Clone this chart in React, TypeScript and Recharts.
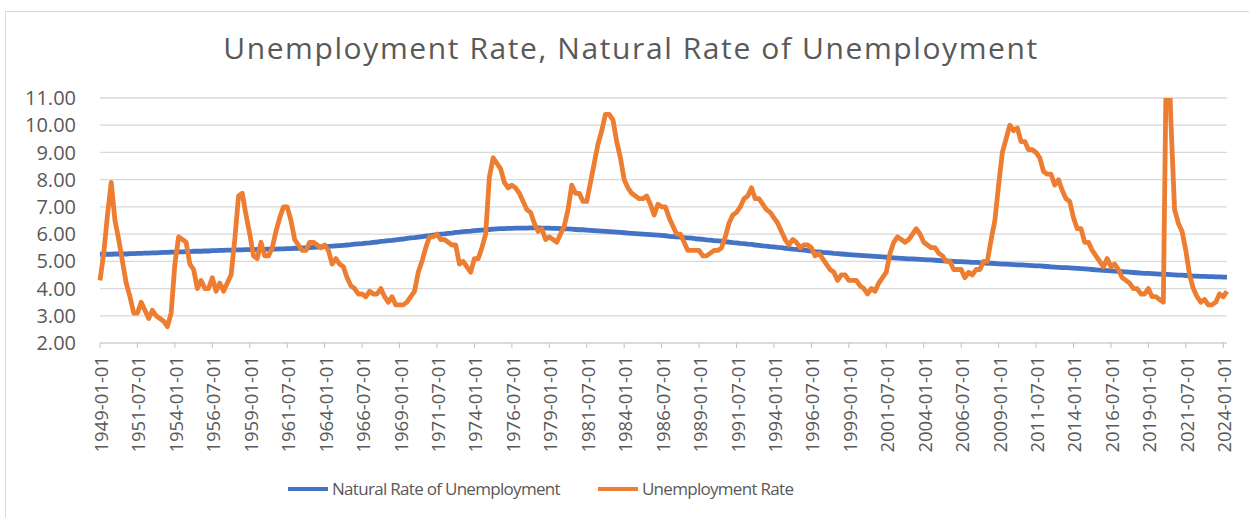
import { LineChart, Line, XAxis, YAxis, CartesianGrid, Legend } from 'recharts';

const FONT = "'Open Sans', sans-serif";
const TEXT = '#595959';
const GRID = '#d9d9d9';

const firstYear = 1949;
const quarterMonths = ['01', '04', '07', '10'];

// unemployment rate (%), first month of each quarter, 1949Q1 - 2024Q2
const unemploymentRate = [
  4.3, 5.3, 6.7, 7.9, // 1949
  6.5, 5.8, 5.0, 4.2,
  3.7, 3.1, 3.1, 3.5,
  3.2, 2.9, 3.2, 3.0,
  2.9, 2.8, 2.6, 3.1,
  4.9, 5.9, 5.8, 5.7, // 1954
  4.9, 4.7, 4.0, 4.3,
  4.0, 4.0, 4.4, 3.9,
  4.2, 3.9, 4.2, 4.5,
  5.8, 7.4, 7.5, 6.7,
  6.0, 5.2, 5.1, 5.7, // 1959
  5.2, 5.2, 5.5, 6.1,
  6.6, 7.0, 7.0, 6.5,
  5.8, 5.6, 5.4, 5.4,
  5.7, 5.7, 5.6, 5.5,
  5.6, 5.4, 4.9, 5.1, // 1964
  4.9, 4.8, 4.4, 4.1,
  4.0, 3.8, 3.8, 3.7,
  3.9, 3.8, 3.8, 4.0,
  3.7, 3.5, 3.7, 3.4,
  3.4, 3.4, 3.5, 3.7, // 1969
  3.9, 4.6, 5.0, 5.5,
  5.9, 5.9, 6.0, 5.8,
  5.8, 5.7, 5.6, 5.6,
  4.9, 5.0, 4.8, 4.6,
  5.1, 5.1, 5.5, 6.0, // 1974
  8.1, 8.8, 8.6, 8.4,
  7.9, 7.7, 7.8, 7.7,
  7.5, 7.2, 6.9, 6.8,
  6.4, 6.1, 6.2, 5.8,
  5.9, 5.8, 5.7, 6.0, // 1979
  6.3, 6.9, 7.8, 7.5,
  7.5, 7.2, 7.2, 7.9,
  8.6, 9.3, 9.8, 10.4,
  10.4, 10.2, 9.4, 8.8,
  8.0, 7.7, 7.5, 7.4, // 1984
  7.3, 7.3, 7.4, 7.1,
  6.7, 7.1, 7.0, 7.0,
  6.6, 6.3, 6.0, 6.0,
  5.7, 5.4, 5.4, 5.4,
  5.4, 5.2, 5.2, 5.3, // 1989
  5.4, 5.4, 5.5, 5.9,
  6.4, 6.7, 6.8, 7.0,
  7.3, 7.4, 7.7, 7.3,
  7.3, 7.1, 6.9, 6.8,
  6.6, 6.4, 6.1, 5.8, // 1994
  5.6, 5.8, 5.7, 5.5,
  5.6, 5.6, 5.5, 5.2,
  5.3, 5.1, 4.9, 4.7,
  4.6, 4.3, 4.5, 4.5,
  4.3, 4.3, 4.3, 4.1, // 1999
  4.0, 3.8, 4.0, 3.9,
  4.2, 4.4, 4.6, 5.3,
  5.7, 5.9, 5.8, 5.7,
  5.8, 6.0, 6.2, 6.0,
  5.7, 5.6, 5.5, 5.5, // 2004
  5.3, 5.2, 5.0, 5.0,
  4.7, 4.7, 4.7, 4.4,
  4.6, 4.5, 4.7, 4.7,
  5.0, 5.0, 5.8, 6.5,
  7.8, 9.0, 9.5, 10.0, // 2009
  9.8, 9.9, 9.4, 9.4,
  9.1, 9.1, 9.0, 8.8,
  8.3, 8.2, 8.2, 7.8,
  8.0, 7.6, 7.3, 7.2,
  6.6, 6.2, 6.2, 5.7, // 2014
  5.7, 5.4, 5.2, 5.0,
  4.8, 5.1, 4.8, 4.9,
  4.7, 4.4, 4.3, 4.2,
  4.0, 4.0, 3.8, 3.8,
  4.0, 3.7, 3.7, 3.6, // 2019
  3.5, 14.8, 10.2, 6.9,
  6.4, 6.1, 5.4, 4.5,
  4.0, 3.7, 3.5, 3.6,
  3.4, 3.4, 3.5, 3.8,
  3.7, 3.9, // 2024
];

// natural rate of unemployment (%), same quarters
const naturalRate = [
  5.26, 5.26, 5.26, 5.26, // 1949
  5.27, 5.27, 5.27, 5.27,
  5.28, 5.28, 5.29, 5.29,
  5.30, 5.30, 5.31, 5.31,
  5.32, 5.33, 5.33, 5.34,
  5.34, 5.35, 5.35, 5.36, // 1954
  5.36, 5.37, 5.37, 5.37,
  5.38, 5.38, 5.39, 5.39,
  5.40, 5.40, 5.41, 5.41,
  5.42, 5.42, 5.42, 5.43,
  5.43, 5.43, 5.44, 5.44, // 1959
  5.44, 5.45, 5.45, 5.45,
  5.46, 5.46, 5.47, 5.47,
  5.48, 5.48, 5.49, 5.49,
  5.50, 5.51, 5.52, 5.53,
  5.54, 5.55, 5.56, 5.57, // 1964
  5.58, 5.59, 5.60, 5.61,
  5.63, 5.64, 5.65, 5.67,
  5.68, 5.70, 5.71, 5.73,
  5.74, 5.76, 5.77, 5.79,
  5.81, 5.82, 5.84, 5.86, // 1969
  5.87, 5.89, 5.91, 5.93,
  5.94, 5.96, 5.98, 6.00,
  6.01, 6.03, 6.04, 6.06,
  6.07, 6.09, 6.10, 6.11,
  6.13, 6.14, 6.15, 6.16, // 1974
  6.17, 6.18, 6.19, 6.20,
  6.20, 6.21, 6.21, 6.22,
  6.22, 6.22, 6.22, 6.23,
  6.23, 6.23, 6.22, 6.22,
  6.22, 6.21, 6.21, 6.20, // 1979
  6.19, 6.19, 6.18, 6.17,
  6.16, 6.16, 6.15, 6.14,
  6.13, 6.12, 6.11, 6.10,
  6.09, 6.08, 6.07, 6.06,
  6.05, 6.04, 6.03, 6.02, // 1984
  6.01, 6.00, 5.99, 5.98,
  5.97, 5.96, 5.95, 5.94,
  5.92, 5.91, 5.90, 5.89,
  5.87, 5.86, 5.85, 5.83,
  5.82, 5.81, 5.79, 5.78, // 1989
  5.76, 5.75, 5.74, 5.72,
  5.71, 5.69, 5.68, 5.66,
  5.65, 5.63, 5.62, 5.60,
  5.59, 5.57, 5.56, 5.54,
  5.53, 5.51, 5.50, 5.48, // 1994
  5.47, 5.45, 5.44, 5.42,
  5.41, 5.39, 5.38, 5.36,
  5.35, 5.33, 5.32, 5.31,
  5.29, 5.28, 5.27, 5.26,
  5.25, 5.24, 5.23, 5.22, // 1999
  5.21, 5.20, 5.19, 5.18,
  5.17, 5.16, 5.15, 5.14,
  5.13, 5.12, 5.11, 5.10,
  5.09, 5.09, 5.08, 5.07,
  5.06, 5.05, 5.05, 5.04, // 2004
  5.03, 5.02, 5.02, 5.01,
  5.00, 4.99, 4.99, 4.98,
  4.97, 4.96, 4.96, 4.95,
  4.94, 4.93, 4.93, 4.92,
  4.91, 4.90, 4.90, 4.89, // 2009
  4.88, 4.87, 4.87, 4.86,
  4.85, 4.84, 4.83, 4.83,
  4.82, 4.81, 4.80, 4.79,
  4.78, 4.77, 4.77, 4.76,
  4.75, 4.74, 4.73, 4.72, // 2014
  4.71, 4.70, 4.69, 4.68,
  4.67, 4.66, 4.65, 4.64,
  4.63, 4.62, 4.61, 4.60,
  4.59, 4.58, 4.57, 4.56,
  4.56, 4.55, 4.54, 4.53, // 2019
  4.52, 4.52, 4.51, 4.50,
  4.49, 4.49, 4.48, 4.47,
  4.46, 4.46, 4.45, 4.45,
  4.44, 4.44, 4.43, 4.43,
  4.42, 4.42, // 2024
];

const yTicks = [2, 3, 4, 5, 6, 7, 8, 9, 10, 11];

const series = [
  { key: 'natural', name: 'Natural Rate of Unemployment', color: '#4472C4' },
  { key: 'unemployment', name: 'Unemployment Rate', color: '#ED7D31' },
];

const dates = unemploymentRate.map(
  (_, i) => `${firstYear + Math.floor(i / 4)}-${quarterMonths[i % 4]}-01`
);

const data = dates.map((date, i) => ({
  date,
  natural: naturalRate[i],
  unemployment: unemploymentRate[i],
}));

function DateTick({ x, y, payload }: any) {
  return (
    <text
      transform={`translate(${x + 8},${y + 8}) rotate(-90)`}
      textAnchor="end"
      fill={TEXT}
      fontSize={18.5}
      fontFamily={FONT}
    >
      {payload.value}
    </text>
  );
}

function LegendBox() {
  return (
    <div
      style={{
        height: 28,
        display: 'flex',
        alignItems: 'center',
        paddingLeft: 288,
        fontFamily: FONT,
        fontSize: 17,
        letterSpacing: -0.7,
        lineHeight: '28px',
        color: TEXT,
      }}
    >
      {series.map((s, i) => (
        <div key={s.key} style={{ display: 'flex', alignItems: 'center', marginLeft: i ? 38 : 0 }}>
          <span style={{ width: 40, height: 4, background: s.color, marginRight: 4 }} />
          <span>{s.name}</span>
        </div>
      ))}
    </div>
  );
}

export default function App() {
  return (
    <div
      style={{
        position: 'absolute',
        left: 0,
        top: 0,
        width: 1249,
        height: 518,
        overflow: 'hidden',
        background: '#fff',
      }}
    >
      <div
        style={{
          position: 'absolute',
          left: 5,
          top: 11,
          width: 1300,
          height: 600,
          border: `1px solid ${GRID}`,
        }}
      />
      <div
        style={{
          position: 'absolute',
          left: 6,
          top: 33,
          width: 1250,
          textAlign: 'center',
          fontFamily: FONT,
          fontSize: 30,
          lineHeight: '30px',
          letterSpacing: 1.6,
          color: TEXT,
        }}
      >
        Unemployment Rate, Natural Rate of Unemployment
      </div>
      <div style={{ position: 'absolute', left: 0, top: 0 }}>
        <LineChart
          width={1249}
          height={518}
          data={data}
          margin={{ top: 98, right: 22, bottom: 10, left: 10 }}
        >
          <CartesianGrid horizontal vertical={false} stroke={GRID} strokeWidth={1.3} />
          <XAxis
            dataKey="date"
            interval={9}
            height={137}
            tickSize={5}
            tickMargin={0}
            axisLine={{ stroke: GRID, strokeWidth: 1.3 }}
            tickLine={{ stroke: '#bfbfbf' }}
            tick={<DateTick />}
          />
          <YAxis
            type="number"
            domain={[2, 11]}
            ticks={yTicks}
            interval={0}
            allowDataOverflow
            width={90}
            axisLine={false}
            tickLine={false}
            tickMargin={18}
            tickFormatter={(v: number) => v.toFixed(2)}
            tick={{ fill: TEXT, fontSize: 20, fontFamily: FONT }}
          />
          <Legend
            verticalAlign="bottom"
            content={<LegendBox />}
            wrapperStyle={{ left: 0, top: 475, width: 1249 }}
          />
          {series.map((s) => (
            <Line
              key={s.key}
              type="linear"
              dataKey={s.key}
              name={s.name}
              stroke={s.color}
              strokeWidth={4.8}
              strokeLinejoin="round"
              dot={false}
              activeDot={false}
              isAnimationActive={false}
            />
          ))}
        </LineChart>
      </div>
    </div>
  );
}
